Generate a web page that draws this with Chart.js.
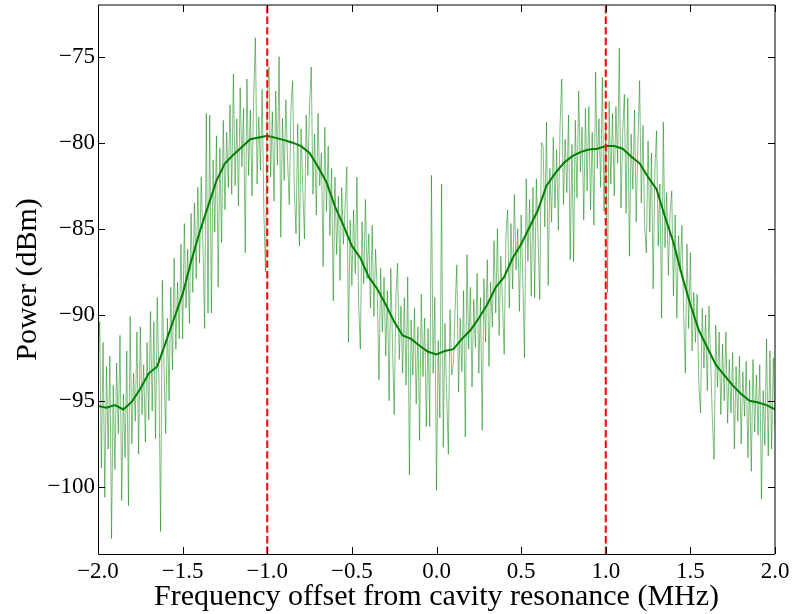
<!DOCTYPE html>
<html>
<head>
<meta charset="utf-8">
<script src="https://cdn.jsdelivr.net/npm/chart.js@4.4.1/dist/chart.umd.min.js"></script>
<style>
    html, body { margin: 0; padding: 0; background: #fff; }
    #wrap { width: 792px; height: 614px; }
</style>
</head>
<body>
<div id="wrap"><canvas id="spectrumChart" width="792" height="614"></canvas></div>
<script>
/* ================= DATA ================= */

// raw sweep, -2.00 ... 2.00 MHz, one reading every 0.01 MHz
const rawStart = -2.0;
const rawStep = 0.01;
const rawPower = [
    -93.5, -90.4, -98.9, -91.6, -100.6, -93.0, -97.8, -92.4, -103.0, -94.1,
    -99.0, -92.8, -96.9, -91.2, -100.8, -94.6, -98.3, -92.1, -101.1, -90.1,
    -97.5, -93.4, -96.2, -91.0, -98.1, -90.7, -95.8, -92.9, -97.4, -91.6,
    -96.1, -89.8, -95.6, -90.4, -97.2, -89.0, -93.7, -102.6, -88.0, -93.1,
    -96.9, -90.2, -95.0, -88.4, -93.2, -86.7, -92.0, -88.1, -91.4, -85.9,
    -91.4, -84.7, -89.6, -86.2, -90.5, -84.1, -88.7, -83.5, -87.9, -82.6,
    -87.0, -82.0, -85.9, -90.8, -78.3, -89.9, -78.4, -89.9, -81.0, -85.2,
    -79.6, -88.4, -80.3, -85.8, -78.7, -83.9, -79.4, -82.6, -77.8, -83.0,
    -76.0, -82.5, -78.6, -83.7, -76.8, -81.4, -78.0, -86.4, -76.3, -81.9,
    -78.1, -83.1, -77.2, -73.9, -82.4, -78.5, -81.6, -76.9, -84.1, -87.5,
    -77.4, -75.6, -82.0, -78.2, -83.4, -77.0, -81.3, -75.0, -85.5, -78.6,
    -82.2, -77.5, -81.0, -83.6, -78.0, -76.4, -82.8, -85.3, -78.9, -86.0,
    -79.2, -82.7, -85.6, -78.4, -81.9, -77.8, -75.6, -83.0, -79.5, -84.2,
    -78.3, -82.5, -80.6, -87.2, -79.1, -84.0, -80.2, -85.4, -81.5, -89.2,
    -82.0, -86.5, -83.1, -88.0, -82.6, -85.9, -83.7, -81.4, -91.6, -84.5,
    -88.3, -83.9, -87.6, -82.0, -89.4, -92.0, -84.6, -88.2, -83.3, -87.9,
    -85.3, -89.6, -84.8, -90.1, -86.2, -88.7, -93.8, -87.3, -91.0, -87.8,
    -92.4, -88.6, -95.0, -87.3, -91.7, -95.8, -88.9, -87.0, -92.6, -89.5,
    -93.4, -89.0, -94.1, -87.8, -99.3, -90.3, -93.5, -89.6, -95.2, -90.7,
    -97.3, -88.8, -93.6, -90.2, -96.5, -90.8, -96.5, -81.9, -93.4, -89.0,
    -100.2, -91.5, -96.0, -82.4, -97.7, -90.5, -94.6, -98.1, -89.7, -93.5,
    -92.8, -89.6, -87.1, -94.5, -90.2, -93.3, -88.6, -97.1, -86.5, -92.0,
    -88.4, -94.2, -89.1, -91.9, -87.6, -93.4, -89.0, -96.7, -87.9, -91.6,
    -86.8, -93.0, -88.1, -90.7, -85.7, -89.9, -85.0, -91.2, -86.6, -89.3,
    -92.3, -85.4, -83.9, -89.6, -84.7, -88.5, -83.0, -87.4, -85.0, -89.8,
    -84.2, -88.0, -92.5, -82.1, -86.9, -83.3, -88.9, -82.6, -89.0, -82.1,
    -85.4, -89.1, -80.0, -80.2, -84.9, -78.8, -88.3, -81.5, -84.6, -79.7,
    -83.8, -80.4, -85.1, -79.0, -76.3, -83.6, -79.8, -82.9, -78.4, -86.8,
    -80.1, -86.9, -78.7, -83.2, -77.0, -81.7, -79.1, -84.5, -78.0, -82.8,
    -77.9, -83.9, -79.4, -84.8, -75.9, -81.5, -78.6, -82.6, -76.2, -84.0,
    -79.1, -88.7, -77.6, -82.4, -78.3, -83.1, -77.9, -81.2, -74.5, -83.8,
    -79.4, -77.2, -84.1, -77.4, -86.6, -79.5, -82.7, -78.1, -84.6, -80.0,
    -76.4, -83.5, -79.0, -84.9, -86.4, -79.9, -85.2, -80.6, -88.5, -81.7,
    -79.3, -86.0, -82.4, -90.2, -78.8, -86.1, -82.9, -87.7, -84.1, -82.8,
    -88.9, -84.2, -90.2, -85.4, -87.5, -84.8, -89.8, -93.4, -85.9, -90.8,
    -86.4, -92.1, -88.7, -91.6, -88.8, -94.0, -95.7, -89.6, -93.1, -90.0,
    -94.4, -89.5, -92.7, -96.1, -98.4, -90.6, -94.2, -91.0, -95.8, -91.7,
    -95.0, -91.0, -96.3, -92.6, -95.7, -92.2, -97.8, -93.0, -96.2, -92.4,
    -97.5, -93.3, -95.9, -92.7, -98.3, -93.8, -99.1, -92.6, -96.8, -93.5,
    -97.0, -92.9, -100.7, -94.4, -97.6, -91.4, -98.2, -92.1, -97.8, -92.5,
    -96.6
];

// smoothed trace, every 0.05 MHz
const smoothStart = -2.0;
const smoothStep = 0.05;
const smoothPower = [
    -95.3, -95.4, -95.25, -95.5, -95.05, -94.3, -93.4, -93.0, -91.6, -90.2,
    -88.8, -86.9, -85.2, -83.7, -82.2, -81.2, -80.7, -80.25, -79.8, -79.7,
    -79.6, -79.72, -79.85, -80.0, -80.2, -80.6, -81.4, -82.3, -83.7, -84.8,
    -86.0, -86.7, -87.8, -88.5, -89.4, -90.4, -91.2, -91.4, -91.8, -92.15,
    -92.3, -92.1, -92.0, -91.4, -90.9, -90.2, -89.4, -88.4, -87.8, -86.7,
    -85.9, -84.9, -83.9, -82.5, -81.8, -81.2, -80.8, -80.55, -80.4, -80.35,
    -80.2, -80.2, -80.35, -80.8, -81.2, -82.0, -82.7, -84.3, -85.8, -87.7,
    -89.4, -90.9, -91.9, -92.9, -93.5, -94.1, -94.6, -95.0, -95.1, -95.25,
    -95.5
];

const markerFreqs = [-1.0, 1.0];

const xTicks = [-2.0, -1.5, -1.0, -0.5, 0.0, 0.5, 1.0, 1.5, 2.0];
const yTicks = [-100, -95, -90, -85, -80, -75];

const xMin = -2.0, xMax = 2.0;
const yMin = -103.9, yMax = -72.0;

/* ================= CHART ================= */

const toPoints = (start, step, values) =>
    values.map((v, i) => ({ x: +(start + i * step).toFixed(3), y: v }));

const minus = s => String(s).replace('-', '\u2212');

const serif = "'Liberation Serif', 'Times New Roman', serif";

const markerSets = markerFreqs.map(f => ({
    data: [{ x: f, y: yMin }, { x: f, y: yMax }],
    borderColor: '#ff0000',
    borderWidth: 2,
    borderDash: [7.4, 3.2],
    pointRadius: 0,
    order: 0
}));

// ticks pointing into the plot on every side, plus the frame
const insideTicks = {
    id: 'insideTicks',
    afterDatasetsDraw(chart) {
        const { ctx, chartArea: a, scales: { x, y } } = chart;
        const L = Math.round(a.left), R = Math.round(a.right);
        const T = Math.round(a.top), B = Math.round(a.bottom);
        ctx.save();
        ctx.strokeStyle = '#000';
        ctx.lineWidth = 1;
        ctx.beginPath();
        xTicks.forEach(v => {
            let px = Math.round(x.getPixelForValue(v)) + 0.5;
            ctx.moveTo(px, B); ctx.lineTo(px, B - 7);
            ctx.moveTo(px, T); ctx.lineTo(px, T + 7);
        });
        yTicks.forEach(v => {
            let py = Math.round(y.getPixelForValue(v)) + 0.5;
            ctx.moveTo(L, py); ctx.lineTo(L + 7, py);
            ctx.moveTo(R, py); ctx.lineTo(R - 7, py);
        });
        ctx.stroke();

        // left / bottom crisp, top / right sit between pixels like the original
        ctx.beginPath();
        ctx.moveTo(L + 0.5, T); ctx.lineTo(L + 0.5, B + 0.5);
        ctx.lineTo(R, B + 0.5);
        ctx.stroke();
        ctx.beginPath();
        ctx.moveTo(L, T); ctx.lineTo(R, T); ctx.lineTo(R, B);
        ctx.stroke();
        ctx.restore();
    }
};

const ctx = document.getElementById('spectrumChart');

new Chart(ctx, {
    type: 'line',
    data: {
        datasets: [
            ...markerSets,
            {
                label: 'smoothed',
                data: toPoints(smoothStart, smoothStep, smoothPower),
                borderColor: '#008000',
                borderWidth: 2,
                pointRadius: 0,
                tension: 0,
                order: 1
            },
            {
                label: 'raw',
                data: toPoints(rawStart, rawStep, rawPower),
                borderColor: 'rgba(0, 128, 0, 0.5)',
                borderWidth: 1,
                pointRadius: 0,
                tension: 0,
                order: 2
            }
        ]
    },
    options: {
        responsive: false,
        animation: false,
        devicePixelRatio: 1,
        layout: { padding: { top: 5, right: 17, left: 0, bottom: 0 } },
        plugins: {
            legend: { display: false },
            tooltip: { enabled: false }
        },
        scales: {
            x: {
                type: 'linear',
                min: xMin,
                max: xMax,
                grid: { display: false, drawTicks: false },
                border: { display: false },
                afterBuildTicks: axis => { axis.ticks = xTicks.map(v => ({ value: v })); },
                afterFit: scale => {
                    scale.height = 60;
                    scale.paddingLeft = 0;
                    scale.paddingRight = 0;
                },
                ticks: {
                    color: '#000',
                    padding: 4,
                    maxRotation: 0,
                    font: { family: serif, size: 23 },
                    callback: v => minus(v.toFixed(1))
                },
                title: {
                    display: true,
                    text: 'Frequency offset from cavity resonance (MHz)',
                    color: '#000',
                    font: { family: serif, size: 30 },
                    padding: { top: 0, bottom: -1 }
                }
            },
            y: {
                type: 'linear',
                min: yMin,
                max: yMax,
                grid: { display: false, drawTicks: false },
                border: { display: false },
                afterBuildTicks: axis => { axis.ticks = yTicks.map(v => ({ value: v })); },
                afterFit: scale => {
                    scale.width = 98;
                    scale.paddingTop = 0;
                    scale.paddingBottom = 0;
                },
                ticks: {
                    color: '#000',
                    padding: 3,
                    font: { family: serif, size: 23 },
                    callback: v => minus(v)
                },
                title: {
                    display: true,
                    text: 'Power (dBm)',
                    color: '#000',
                    font: { family: serif, size: 30 },
                    padding: { top: 10, bottom: 0 }
                }
            }
        }
    },
    plugins: [insideTicks]
});
</script>
</body>
</html>
